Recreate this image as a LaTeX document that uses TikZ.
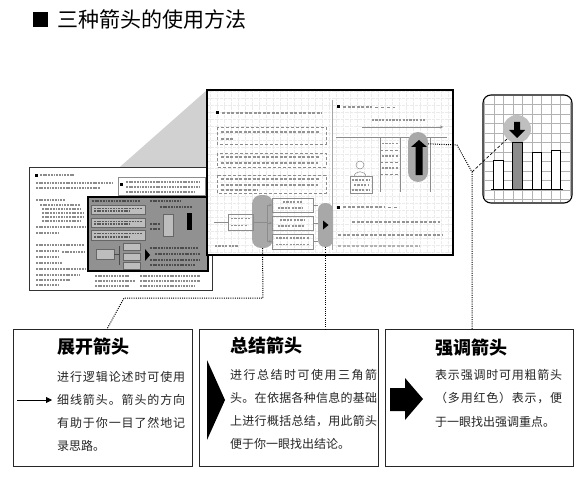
\documentclass[tikz,border=0pt]{standalone}
\usepackage{fontspec}
\newfontfamily\cjk{Noto Sans CJK SC}
\usetikzlibrary{arrows.meta,calc}
% spread a line of CJK characters evenly over a given width
\ExplSyntaxOn
\NewDocumentCommand\jline{mm}{\makebox[#1][s]{\tl_map_inline:nn{#2}{##1\hfill}\unskip}}
\ExplSyntaxOff
\definecolor{capgray}{gray}{0.66}
\definecolor{conegray}{gray}{0.82}
\definecolor{darkarea}{gray}{0.57}
\definecolor{minibox}{gray}{0.74}
\begin{document}
\begin{tikzpicture}[x=1pt,y=-1pt,
  panel/.style={draw=black!85,line width=0.9pt,fill=white,inner sep=0,anchor=north west},
  ttl/.style={font=\cjk\bfseries\fontsize{18}{20}\selectfont,anchor=west,inner sep=0},
  body/.style={font=\cjk\fontsize{12}{14}\selectfont,anchor=west,inner sep=0,text=black!85},
  lead/.style={line width=1pt,dash pattern=on 1pt off 1.2pt},
  hw/.style={line width=2pt,draw=black!42,dash pattern=on 3pt off 1.5pt},
  hws/.style={line width=1.5pt,draw=black!42,dash pattern=on 2.2pt off 1.2pt},
  hwt/.style={line width=1.2pt,draw=black!45,dash pattern=on 1.8pt off 0.9pt},
  notebox/.style={draw=black!45,line width=0.5pt,densely dashed},
  thin/.style={draw=black!45,line width=0.5pt},
  capsule/.style={fill=capgray,rounded corners=9pt,inner sep=0},
]
\useasboundingbox (0,0) rectangle (588,497);

% heading
\node[fill=black,minimum size=15pt,inner sep=0] (mark) at (40,19.5) {};
\node[anchor=west,inner sep=0,font=\cjk\fontsize{21}{24}\selectfont] (title) at (57,19.5) {三种箭头的使用方法};

% ---------- projection cone from the small page to the enlarged page
\fill[conegray] (87,196) -- (207,90) -- (207,255) -- (87,270) -- cycle;

% ---------- small page
\node[draw=black!80,line width=1pt,fill=white,minimum width=183pt,minimum height=123pt,inner sep=0,anchor=north west] (mini) at (29,167) {};
\fill (35,173.5) rectangle (38,176.5);
\draw[hwt] (40,175) -- (75,175);
\draw[hwt] (36,183) -- (112,183);
\draw[hwt] (36,188) -- (100,188);
\draw[thin] (118,177) rectangle (205,195);
\fill (120,183) rectangle (123,186);
\draw[hwt] (126,182) -- (200,182);
\draw[hwt] (126,187) -- (200,187);
\draw[hwt] (126,192) -- (195,192);
\draw[hwt] (36,200) -- (65,200);
\draw[hwt] (40,205) -- (80,205);
\draw[hwt] (42,209) -- (80,209);
\draw[hwt] (42,213) -- (85,213);
\draw[hwt] (42,217) -- (84,217);
\draw[hwt] (42,221) -- (80,221);
\draw[hwt] (36,227) -- (85,227);
\draw[hwt] (36,233) -- (60,233);
\draw[hwt] (36,245) -- (84,245);
\draw[hwt] (36,251) -- (58,251);
\draw[hwt] (62,252) -- (85,252);
\draw[hwt] (36,257) -- (58,257);
\draw[hwt] (36,263) -- (62,263);
\draw[hwt] (36,269) -- (85,269);
\draw[hwt] (36,275) -- (80,275);
\draw[hwt] (36,280) -- (70,280);
\draw[hwt] (36,285) -- (60,285);
\draw[hwt] (95,276) -- (130,276);
\draw[hwt] (95,281) -- (135,281);
\draw[hwt] (95,286) -- (130,286);
\draw[hwt] (140,276) -- (200,276);
\draw[hwt] (140,281) -- (200,281);
\draw[hwt] (140,286) -- (195,286);

% highlighted part of the small page
\node[fill=darkarea,draw=black,line width=1.5pt,minimum width=120pt,minimum height=74pt,inner sep=0,anchor=north west] (focus) at (87,196) {};
\draw[hwt,draw=black!70] (92,201) -- (140,201);
\foreach \t/\b in {205/214,218/227,230/240}{
  \filldraw[fill=minibox,draw=black!60,line width=0.4pt] (91,\t) rectangle (145,\b);
  \draw[hwt,draw=black!65] (94,\t+3.5) -- (142,\t+3.5);
  \draw[hwt,draw=black!65] (94,\b-3) -- (130,\b-3);
}
\filldraw[fill=minibox,draw=black!60,line width=0.4pt] (96,249) rectangle (114,259);
\foreach \t in {243,253,262}{
  \filldraw[fill=minibox,draw=black!60,line width=0.4pt] (123,\t) rectangle (140,\t+7);
}
\draw[black!70,line width=0.4pt] (114,254) -- (119,254) (119,246) -- (119,265);
\fill (145,249) -- (150,255) -- (145,261) -- cycle;
\draw[hwt,draw=black!70] (150,201) -- (180,201);
\draw[hwt,draw=black!70] (160,207) -- (192,207);
\filldraw[fill=minibox,draw=black!60,line width=0.4pt] (163,214) rectangle (173,236);
\fill (187,213) rectangle (192,230);
\draw[hwt,draw=black!70] (150,224) -- (160,224);
\draw[hwt,draw=black!70] (150,229) -- (160,229);
\draw[hwt,draw=black!70] (150,248) -- (198,248);
\draw[hwt,draw=black!70] (155,254) -- (200,254);
\draw[hwt,draw=black!70] (150,260) -- (200,260);
\draw[hwt,draw=black!70] (150,265) -- (195,265);

% ---------- enlarged notebook page
\node[fill=white,minimum width=246pt,minimum height=165pt,inner sep=0,anchor=north west] (page) at (207,90) {};
\draw[step=7pt,black!8,line width=0.3pt,densely dotted] (208,91) grid (452,254);
\draw[black!35,line width=0.5pt] (332,100) -- (332,250);

% left column
\fill (215.5,111.5) rectangle (218.5,114.5);
\draw[hw] (222,113) -- (322,113);
\draw[notebox] (217,127) rectangle (326,144);
\draw[hw] (221,132) -- (320,132);
\draw[hw] (221,139) -- (234,139);
\draw[notebox] (217,153) rectangle (326,167);
\draw[hw] (221,157.5) -- (320,157.5);
\draw[hw] (221,163) -- (318,163);
\draw[notebox] (217,175) rectangle (326,193);
\draw[hw] (221,179) -- (320,179);
\draw[hw] (221,184.5) -- (318,184.5);
\draw[hw] (221,190) -- (258,190);

\node[capsule,minimum width=21pt,minimum height=53pt] (capL) at (262.5,221.5) {};
\node[capsule,minimum width=15pt,minimum height=44pt,rounded corners=7pt] (capR) at (325.5,225) {};

\node[thin,minimum width=25pt,minimum height=16pt,inner sep=0] (src) at (240.5,222) {};
\draw[hws] (231,218.5) -- (251,218.5);
\draw[hws] (231,225.5) -- (248,225.5);
\draw[thin] (214,222) -- (src.west);
\draw[hws] (215,246) -- (238,246);

\node[thin,minimum width=41pt,minimum height=14pt,inner sep=0] (bA) at (292.5,205) {};
\node[thin,minimum width=41pt,minimum height=14pt,inner sep=0] (bB) at (292.5,223) {};
\node[thin,minimum width=41pt,minimum height=15pt,inner sep=0] (bC) at (292.5,241.5) {};
\draw[hws] (283,202) -- (303,202);
\draw[hws] (278,208) -- (303,208);
\draw[hws] (280,220) -- (305,220);
\draw[hws] (278,226) -- (305,226);
\draw[hws] (276,238) -- (310,238);
\draw[hws] (276,244.5) -- (310,244.5);
\draw[thin] (src.east) -- (267,222);
\draw[thin] (267,205) -- (267,241.5);
\foreach \b in {bA,bB,bC}{
  \draw[thin,-{Stealth[length=2.5pt,width=2.5pt]}] (267,0 |- \b.west) -- (\b.west);
  \draw[thin] (\b.east) -- (capR.west |- \b.east);
}
\fill ($(capR.center)+(-2.5,-4.5)$) -- ($(capR.center)+(3,0)$) -- ($(capR.center)+(-2.5,4.5)$) -- cycle;

% right column
\fill (336.5,105.5) rectangle (339.5,108.5);
\draw[hw] (343,107) -- (372,107);
\draw[thin,dashed] (375,107) -- (395,107);
\draw[hws] (372,120) -- (425,120);
\draw[thin,-{Stealth[length=3pt,width=3pt]}] (362,127) -- (443,127);
\draw[thin] (336,137) -- (447,137);
\draw[thin] (380,137) -- (380,192) (400,137) -- (400,192) (430,137) -- (430,192);
\draw[thin,densely dashed] (380,150) -- (400,150) (380,162) -- (400,162) (380,174) -- (400,174);
\draw[hws] (382,143.5) -- (398,143.5);
\draw[hws] (382,156) -- (398,156);
\draw[hws] (382,168) -- (398,168);
\draw[thin] (360,165) circle (4);
\draw[thin] (354,177) .. controls (354,170) and (366,170) .. (366,177);
\node[thin,minimum width=22pt,minimum height=17pt,inner sep=0] (who) at (361,184.5) {};
\draw[hws] (352,180) -- (370,180);
\draw[hws] (354,185) -- (368,185);
\draw[hws] (352,190) -- (370,190);

\node[capsule,minimum width=20pt,minimum height=50pt,rounded corners=10pt] (capU) at (418,157) {};
\fill (415.5,175) -- (415.5,147) -- (411,147) -- (419,140) -- (427,147) -- (422.5,147) -- (422.5,175) -- cycle;

\fill (336.5,205.5) rectangle (339.5,208.5);
\draw[hw] (343,207) -- (385,207);
\draw[thin,dashed] (388,207) -- (400,207);
\draw[hw] (352,222) -- (440,222);
\draw[hw] (338,235) -- (442,235);
\draw[hw,draw=black!30] (338,246) -- (420,246);

\draw[black,line width=2pt] (page.north west) rectangle (page.south east);

% ---------- bar chart card
\node[draw=black,line width=1.1pt,fill=white,rounded corners=8pt,minimum width=89pt,minimum height=108pt,inner sep=0] (chart) at (527.5,149) {};
\begin{scope}
  \clip[rounded corners=7pt] (484,96) rectangle (571,202);
  \draw[step=9.5pt,black!30,line width=0.4pt] (484,96) grid (571,202);
\end{scope}
\node[circle,fill=black!25,minimum size=28pt,inner sep=0] (ring) at (517,129) {};
\filldraw[fill=white,draw=black,line width=0.8pt] (493,160) rectangle (503,189);
\filldraw[fill=black!45,draw=black,line width=0.8pt] (512,142) rectangle (522,189);
\filldraw[fill=white,draw=black,line width=0.8pt] (532,152) rectangle (541,189);
\filldraw[fill=white,draw=black,line width=0.8pt] (551,150) rectangle (560,189);
\draw[black,line width=1pt] (491,189) -- (563,189);
\fill (514,122) -- (520,122) -- (520,130) -- (525,130) -- (517,138) -- (509,130) -- (514,130) -- cycle;

% ---------- explanation panels
\node[panel,minimum width=179pt,minimum height=137pt] (p1) at (13,329) {};
\node[panel,minimum width=179pt,minimum height=137pt] (p2) at (199,329) {};
\node[panel,minimum width=188pt,minimum height=137pt] (p3) at (385,329) {};

\node[ttl] (t1) at (57,347) {展开箭头};
\node[body] (a1) at (57,377) {\jline{128pt}{进行逻辑论述时可使用}};
\node[body] (a2) at (57,400) {\jline{128pt}{细线箭头。箭头的方向}};
\node[body] (a3) at (57,423) {\jline{128pt}{有助于你一目了然地记}};
\node[body] (a4) at (57,446) {录思路。};
\coordinate (tail1) at (17,400);
\coordinate (head1) at (52,400);
\draw[line width=0.8pt,-{Triangle[length=6pt,width=6pt]}] (tail1) -- (head1);

\node[ttl] (t2) at (230,346) {总结箭头};
\node[body] (b1) at (230,375) {\jline{147pt}{进行总结时可使用三角箭}};
\node[body] (b2) at (230,398) {\jline{147pt}{头。在依据各种信息的基础}};
\node[body] (b3) at (230,421) {\jline{147pt}{上进行概括总结，用此箭头}};
\node[body] (b4) at (230,444) {便于你一眼找出结论。};
\fill (207,360) -- (225,400) -- (207,440) -- cycle;

\node[ttl] (t3) at (435,348) {强调箭头};
\node[body] (c1) at (435,375) {\jline{127pt}{表示强调时可用粗箭头}};
\node[body] (c2) at (435,398) {\jline{127pt}{（多用红色）表示，便}};
\node[body] (c3) at (435,422) {于一眼找出强调重点。};
\fill (390,388) -- (405,388) -- (405,378) -- (423,399) -- (405,420) -- (405,411) -- (390,411) -- cycle;

% ---------- leader lines from the marks to the panels
\coordinate (in1) at (107,329);
\coordinate (bend1) at (263,298);
\coordinate (bend2) at (124,298);
\draw[lead] (capL.south) -- (bend1) -- (bend2) -- (in1);
\draw[lead] (capR.south) -- (capR.south |- p2.north);
\coordinate (vee) at (472,172);
\coordinate (knee) at (457,145);
\draw[lead] ($(capU.north east)+(0,12)$) -- (knee) -- (vee) -- (vee |- p3.north);
\draw[line width=0.7pt,densely dashed] (ring.225) -- (vee);
\end{tikzpicture}
\end{document}
